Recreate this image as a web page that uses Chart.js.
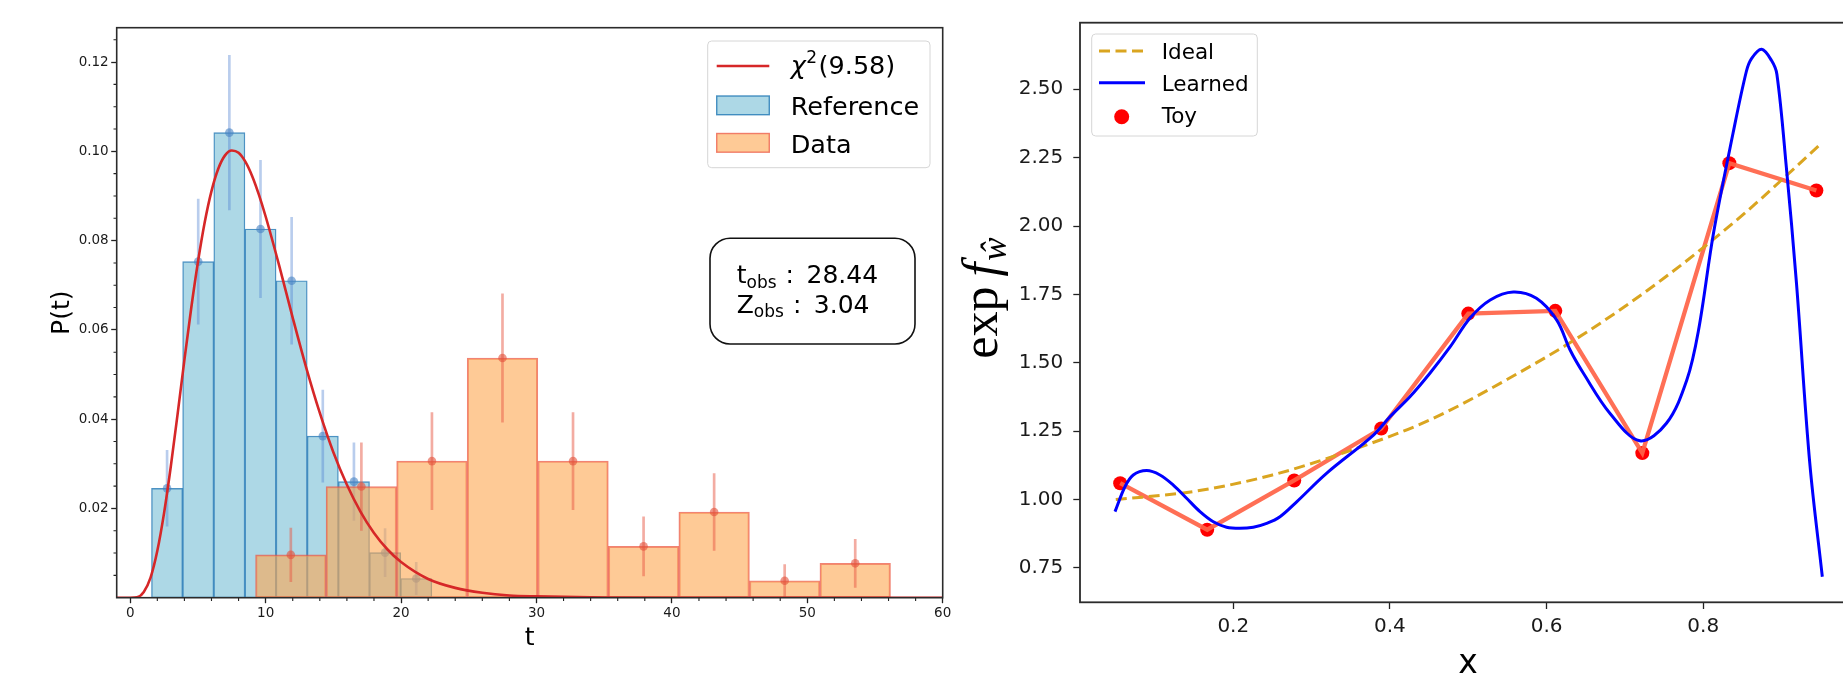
<!DOCTYPE html>
<html>
<head>
<meta charset="utf-8">
<script src="https://cdn.jsdelivr.net/npm/chart.js@4.4.1/dist/chart.umd.min.js"></script>
<style>
  html, body { margin: 0; padding: 0; background: #fff; overflow: hidden; width: 1843px; height: 677px; }
  #wrap { position: relative; width: 1843px; height: 677px; overflow: hidden; }
  #left { position: absolute; left: 0; top: 0; }
  #right { position: absolute; left: 960px; top: 0; }
</style>
</head>
<body>
<div id="wrap">
  <canvas id="left" width="960" height="677"></canvas>
  <canvas id="right" width="910" height="677"></canvas>
</div>
<script>
// ---------- left panel: distribution of the test statistic t ----------
const refCenters  = [2.72, 5.02, 7.32, 9.62, 11.92, 14.22, 16.52, 18.82, 21.12];
const refHeights  = [0.0245, 0.0753, 0.1042, 0.0826, 0.0710, 0.0362, 0.0260, 0.0101, 0.0043];
const refErrors   = [0.0085, 0.0140, 0.0173, 0.0154, 0.0142, 0.0103, 0.0087, 0.0054, 0.0036];
const dataCenters = [11.86, 17.07, 22.28, 27.49, 32.70, 37.91, 43.12, 48.33, 53.54];
const dataHeights = [0.0096, 0.0249, 0.0306, 0.0537, 0.0306, 0.0115, 0.0192, 0.0038, 0.0077];
const dataErrors  = [0.0060, 0.0098, 0.0109, 0.0144, 0.0109, 0.0066, 0.0086, 0.0036, 0.0054];
const chiDof = '9.58';
const chiT = [-1, 0, 0.5, 1, 1.5, 2, 2.5, 3, 3.5, 4, 4.5, 5, 5.5, 6, 6.5, 7, 7.5, 8, 8.5, 9, 9.5, 10,
              11, 12, 13, 14, 15, 16, 17, 18, 19, 20, 22, 24, 26, 28, 30, 35, 40, 50, 60];
const chiP = [0, 0, 0.0001, 0.0013, 0.0045, 0.0105, 0.0190, 0.0295, 0.0412, 0.0533, 0.0648, 0.0752,
              0.0841, 0.0911, 0.0961, 0.0991, 0.1002, 0.0997, 0.0977, 0.0945, 0.0903, 0.0854,
              0.0744, 0.0627, 0.0515, 0.0414, 0.0326, 0.0253, 0.0193, 0.0145, 0.0108, 0.0080,
              0.0042, 0.0022, 0.0011, 0.0005, 0.0003, 0.00004, 0, 0, 0];
const tObs = '28.44';
const zObs = '3.04';
const tTicks = [0, 10, 20, 30, 40, 50, 60];
const pTicks = [0.02, 0.04, 0.06, 0.08, 0.10, 0.12];

// ---------- right panel: learned vs ideal ratio ----------
const toyX = [0.0556, 0.1667, 0.2778, 0.3889, 0.5000, 0.6111, 0.7222, 0.8333, 0.9444];
const toyY = [1.06, 0.89, 1.07, 1.26, 1.68, 1.69, 1.17, 2.23, 2.13];
const idealX = [0.05, 0.15, 0.25, 0.35, 0.45, 0.55, 0.65, 0.75, 0.85, 0.95];
const idealY = [1.00, 1.03, 1.09, 1.18, 1.29, 1.44, 1.61, 1.81, 2.04, 2.30];
const learnedX = [0.049, 0.0617, 0.0723, 0.0894, 0.1064, 0.1234, 0.1404, 0.1575, 0.1745, 0.1915,
                  0.2085, 0.2255, 0.2426, 0.2596, 0.2809, 0.319, 0.379, 0.400, 0.4255, 0.451,
                  0.477, 0.502, 0.528, 0.5575, 0.587, 0.613, 0.630, 0.647, 0.681, 0.719, 0.753,
                  0.779, 0.794, 0.813, 0.838, 0.855, 0.8616, 0.8745, 0.8872, 0.894, 0.906, 0.919,
                  0.936, 0.952];
const learnedY = [0.956, 1.047, 1.090, 1.106, 1.090, 1.053, 1.005, 0.956, 0.919, 0.899,
                  0.895, 0.899, 0.913, 0.9375, 0.992, 1.096, 1.236, 1.303, 1.376, 1.462,
                  1.559, 1.663, 1.730, 1.759, 1.736, 1.656, 1.547, 1.462, 1.315, 1.215, 1.279,
                  1.437, 1.620, 1.973, 2.339, 2.565, 2.612, 2.646, 2.605, 2.555, 2.217, 1.791,
                  1.133, 0.718];
const xTicks = [0.2, 0.4, 0.6, 0.8];
const yTicks = [0.75, 1.00, 1.25, 1.50, 1.75, 2.00, 2.25, 2.50];

// ---------- shared helpers ----------
const SANS = '"DejaVu Sans", sans-serif';
const SERIF = '"Liberation Serif", "DejaVu Serif", serif';
Chart.defaults.font.family = SANS;

const REF_FILL = '#add8e6', REF_EDGE = 'rgba(31,119,180,0.8)';
const DATA_FILL = 'rgba(253,167,80,0.6)', DATA_EDGE = 'rgba(236,90,70,0.75)';
const CHI_COLOR = '#d62728';

function pts(xs, ys) { return xs.map((x, i) => ({ x, y: ys[i] })); }
function errPts(cs, hs, es) { return cs.map((c, i) => ({ x: c, y: [hs[i] - es[i], hs[i] + es[i]] })); }
function fixedTicks(vals) { return s => { s.ticks = vals.map(v => ({ value: v })); }; }

function drawRuns(ctx, x, y, runs) {
  for (const r of runs) {
    ctx.font = r.font;
    ctx.fillText(r.text, x, y + (r.dy || 0));
    x += ctx.measureText(r.text).width + (r.gap || 0);
  }
  return x;
}
function runsWidth(ctx, runs) {
  let w = 0;
  for (const r of runs) { ctx.font = r.font; w += ctx.measureText(r.text).width + (r.gap || 0); }
  return w;
}
function roundPath(ctx, x, y, w, h, r) {
  ctx.beginPath();
  ctx.moveTo(x + r, y);
  ctx.lineTo(x + w - r, y); ctx.arcTo(x + w, y, x + w, y + r, r);
  ctx.lineTo(x + w, y + h - r); ctx.arcTo(x + w, y + h, x + w - r, y + h, r);
  ctx.lineTo(x + r, y + h); ctx.arcTo(x, y + h, x, y + h - r, r);
  ctx.lineTo(x, y + r); ctx.arcTo(x, y, x + r, y, r);
  ctx.closePath();
}
function tickGrid(len) {
  return { display: true, drawOnChartArea: false, drawTicks: true, tickLength: len,
           tickColor: '#222', tickWidth: 1.3, offset: false };
}
function hiddenX(min, max) {
  return { type: 'linear', axis: 'x', position: 'bottom', display: false, min, max, offset: false,
           bounds: 'data', afterBuildTicks: fixedTicks([min, max]) };
}

// ---------- left chart ----------
const leftDecor = {
  id: 'leftDecor',
  afterDraw(chart) {
    const { ctx, chartArea: ca, scales } = chart;
    const xs = scales.x, ys = scales.y;
    ctx.save();
    // minor ticks
    ctx.strokeStyle = '#222'; ctx.lineWidth = 1.1;
    ctx.beginPath();
    for (let v = 2; v < 60; v += 2) {
      if (v % 10 === 0) continue;
      const px = xs.getPixelForValue(v);
      ctx.moveTo(px, ca.bottom); ctx.lineTo(px, ca.bottom + 3.2);
    }
    for (let k = 1; k <= 25; k++) {
      if (k % 4 === 0) continue;
      const py = ys.getPixelForValue(k * 0.005);
      ctx.moveTo(ca.left, py); ctx.lineTo(ca.left - 3.2, py);
    }
    ctx.stroke();
    // frame
    ctx.strokeStyle = '#2b2b2b'; ctx.lineWidth = 1.6;
    ctx.strokeRect(ca.left, ca.top, ca.right - ca.left, ca.bottom - ca.top);

    // axis titles
    ctx.fillStyle = '#000';
    ctx.font = '25px ' + SANS;
    ctx.textAlign = 'center'; ctx.textBaseline = 'alphabetic';
    ctx.fillText('t', (ca.left + ca.right) / 2, 645);
    ctx.save();
    ctx.translate(69, (ca.top + ca.bottom) / 2);
    ctx.rotate(-Math.PI / 2);
    ctx.fillText('P(t)', 0, 0);
    ctx.restore();

    // legend
    ctx.textAlign = 'left';
    roundPath(ctx, 707.7, 41, 222.3, 126.7, 4);
    ctx.fillStyle = 'rgba(255,255,255,0.8)'; ctx.fill();
    ctx.strokeStyle = '#d6d6d6'; ctx.lineWidth = 1; ctx.stroke();
    ctx.strokeStyle = CHI_COLOR; ctx.lineWidth = 2.6;
    ctx.beginPath(); ctx.moveTo(716.7, 66); ctx.lineTo(769.3, 66); ctx.stroke();
    ctx.fillStyle = '#000';
    drawRuns(ctx, 790.7, 74, [
      { text: 'χ', font: 'oblique 25.5px ' + SANS, gap: 0.5 },
      { text: '2', font: '17px ' + SANS, dy: -11, gap: 1.5 },
      { text: '(' + chiDof + ')', font: '25.5px ' + SANS }
    ]);
    ctx.fillStyle = REF_FILL; ctx.fillRect(716.7, 96, 52.6, 18.7);
    ctx.strokeStyle = REF_EDGE; ctx.lineWidth = 1.4; ctx.strokeRect(716.7, 96, 52.6, 18.7);
    ctx.fillStyle = '#000'; ctx.font = '25.5px ' + SANS;
    ctx.fillText('Reference', 790.7, 115);
    ctx.fillStyle = DATA_FILL; ctx.fillRect(716.7, 133.5, 52.6, 18.7);
    ctx.strokeStyle = DATA_EDGE; ctx.lineWidth = 1.4; ctx.strokeRect(716.7, 133.5, 52.6, 18.7);
    ctx.fillStyle = '#000';
    ctx.fillText('Data', 790.7, 152.7);

    // observed-value box
    roundPath(ctx, 710, 238.3, 205, 105.7, 20);
    ctx.fillStyle = '#fff'; ctx.fill();
    ctx.strokeStyle = '#111'; ctx.lineWidth = 1.6; ctx.stroke();
    ctx.fillStyle = '#000';
    drawRuns(ctx, 736.7, 283.3, [
      { text: 't', font: '25px ' + SANS },
      { text: 'obs', font: '17px ' + SANS, dy: 5, gap: 9 },
      { text: ':', font: '25px ' + SANS, gap: 12.5 },
      { text: tObs, font: '25px ' + SANS }
    ]);
    drawRuns(ctx, 736.7, 313.3, [
      { text: 'Z', font: '25px ' + SANS },
      { text: 'obs', font: '17px ' + SANS, dy: 4, gap: 9 },
      { text: ':', font: '25px ' + SANS, gap: 12.5 },
      { text: zObs, font: '25px ' + SANS }
    ]);
    ctx.restore();
  }
};

new Chart(document.getElementById('left'), {
  type: 'bar',
  data: {
    datasets: [
      { type: 'line', label: 'χ2(' + chiDof + ')', data: pts(chiT, chiP), xAxisID: 'x', yAxisID: 'y',
        borderColor: CHI_COLOR, borderWidth: 2.6, pointRadius: 0, fill: false,
        cubicInterpolationMode: 'monotone', order: 0 },
      { type: 'scatter', label: 'Data points', data: pts(dataCenters, dataHeights), xAxisID: 'xb', yAxisID: 'y',
        backgroundColor: 'rgba(226,80,58,0.6)', pointRadius: 4.3, borderWidth: 0, order: 1 },
      { type: 'bar', label: 'Data errors', data: errPts(dataCenters, dataHeights, dataErrors), xAxisID: 'xb', yAxisID: 'y',
        backgroundColor: 'rgba(232,90,70,0.5)', borderWidth: 0, barThickness: 2, grouped: false, order: 2 },
      { type: 'bar', label: 'Data', data: pts(dataCenters, dataHeights), xAxisID: 'xb', yAxisID: 'y',
        backgroundColor: DATA_FILL, borderColor: DATA_EDGE, borderWidth: 1.4, borderSkipped: false,
        barPercentage: 1, categoryPercentage: 1, grouped: false, order: 3 },
      { type: 'scatter', label: 'Reference points', data: pts(refCenters, refHeights), xAxisID: 'xa', yAxisID: 'y',
        backgroundColor: 'rgba(70,130,195,0.6)', pointRadius: 4.3, borderWidth: 0, order: 4 },
      { type: 'bar', label: 'Reference errors', data: errPts(refCenters, refHeights, refErrors), xAxisID: 'xa', yAxisID: 'y',
        backgroundColor: 'rgba(80,130,210,0.4)', borderWidth: 0, barThickness: 2, grouped: false, order: 5 },
      { type: 'bar', label: 'Reference', data: pts(refCenters, refHeights), xAxisID: 'xa', yAxisID: 'y',
        backgroundColor: REF_FILL, borderColor: REF_EDGE, borderWidth: 1.4, borderSkipped: false,
        barPercentage: 1, categoryPercentage: 1, grouped: false, order: 6 }
    ]
  },
  options: {
    responsive: false, animation: false, events: [],
    layout: { padding: { top: 27.7, right: 17.3, left: 0, bottom: 0 } },
    plugins: { legend: { display: false }, tooltip: { enabled: false } },
    scales: {
      x: { type: 'linear', position: 'bottom', min: -1, max: 60, offset: false, bounds: 'data',
           afterBuildTicks: fixedTicks(tTicks), afterFit: s => { s.height = 79.3; },
           ticks: { font: { size: 13.5 }, color: '#1a1a1a', padding: 2, maxRotation: 0, autoSkip: false,
                    callback: v => String(v) },
           grid: tickGrid(5.5), border: { display: false } },
      xa: hiddenX(-1, 60),
      xb: hiddenX(-1, 60),
      y: { type: 'linear', position: 'left', min: 0, max: 0.1277, bounds: 'data',
           afterBuildTicks: fixedTicks(pTicks), afterFit: s => { s.width = 116.7; },
           ticks: { font: { size: 13.5 }, color: '#1a1a1a', padding: 2.5, autoSkip: false,
                    callback: v => v.toFixed(2) },
           grid: tickGrid(5.5), border: { display: false } }
    }
  },
  plugins: [leftDecor]
});

// ---------- right chart ----------
const rightDecor = {
  id: 'rightDecor',
  afterDraw(chart) {
    const { ctx, chartArea: ca } = chart;
    ctx.save();
    ctx.strokeStyle = '#2b2b2b'; ctx.lineWidth = 1.8;
    ctx.strokeRect(ca.left, ca.top, ca.right - ca.left, ca.bottom - ca.top);

    // axis titles
    ctx.fillStyle = '#000';
    ctx.textAlign = 'center'; ctx.textBaseline = 'alphabetic';
    ctx.font = '33px ' + SANS;
    ctx.fillText('x', (ca.left + ca.right) / 2, 673.3);
    const label = [
      { text: 'exp', font: '50px ' + SERIF, gap: 10 },
      { text: 'f', font: 'italic 50px ' + SERIF, gap: 2 },
      { text: 'ŵ', font: 'italic 35px ' + SERIF, dy: 9 }
    ];
    const w = runsWidth(ctx, label);
    ctx.save();
    ctx.translate(37, 298);
    ctx.rotate(-Math.PI / 2);
    ctx.textAlign = 'left';
    drawRuns(ctx, -w / 2, 0, label);
    ctx.restore();

    // legend
    ctx.textAlign = 'left';
    roundPath(ctx, 131.7, 34, 165.6, 102, 4);
    ctx.fillStyle = 'rgba(255,255,255,0.8)'; ctx.fill();
    ctx.strokeStyle = '#d6d6d6'; ctx.lineWidth = 1; ctx.stroke();
    ctx.lineWidth = 3;
    ctx.strokeStyle = '#daa520'; ctx.setLineDash([11, 5.5]);
    ctx.beginPath(); ctx.moveTo(139, 51); ctx.lineTo(185, 51); ctx.stroke();
    ctx.setLineDash([]);
    ctx.strokeStyle = '#0000ff';
    ctx.beginPath(); ctx.moveTo(139, 82.7); ctx.lineTo(185, 82.7); ctx.stroke();
    ctx.fillStyle = '#ff0000';
    ctx.beginPath(); ctx.arc(161.7, 116.7, 7.5, 0, Math.PI * 2); ctx.fill();
    ctx.fillStyle = '#000'; ctx.font = '21.5px ' + SANS;
    ctx.fillText('Ideal', 201.7, 59.3);
    ctx.fillText('Learned', 201.7, 90.7);
    ctx.fillText('Toy', 201.7, 123.3);
    ctx.restore();
  }
};

new Chart(document.getElementById('right'), {
  type: 'line',
  data: {
    datasets: [
      { label: 'Learned', data: pts(learnedX, learnedY), borderColor: '#0000ff', borderWidth: 3,
        pointRadius: 0, fill: false, tension: 0.35, order: 0 },
      { label: 'Ideal', data: pts(idealX, idealY), borderColor: '#daa520', borderWidth: 3,
        borderDash: [11, 5.5], pointRadius: 0, fill: false, cubicInterpolationMode: 'monotone', order: 1 },
      { label: 'Toy path', data: pts(toyX, toyY), borderColor: 'rgba(255,99,71,0.92)', borderWidth: 4.3,
        pointRadius: 0, fill: false, tension: 0, order: 2 },
      { type: 'scatter', label: 'Toy', data: pts(toyX, toyY), backgroundColor: '#ff0000',
        pointRadius: 7, borderWidth: 0, order: 3 }
    ]
  },
  options: {
    responsive: false, animation: false, events: [],
    layout: { padding: { top: 22.7, right: 14, left: 0, bottom: 0 } },
    plugins: { legend: { display: false }, tooltip: { enabled: false } },
    scales: {
      x: { type: 'linear', position: 'bottom', min: 0.0043, max: 0.995, bounds: 'data',
           afterBuildTicks: fixedTicks(xTicks), afterFit: s => { s.height = 74.7; },
           ticks: { font: { size: 20 }, color: '#1a1a1a', padding: 6, maxRotation: 0, autoSkip: false,
                    callback: v => v.toFixed(1) },
           grid: tickGrid(6.7), border: { display: false } },
      y: { type: 'linear', position: 'left', min: 0.6246, max: 2.7434, bounds: 'data',
           afterBuildTicks: fixedTicks(yTicks), afterFit: s => { s.width = 120; },
           ticks: { font: { size: 20 }, color: '#1a1a1a', padding: 10, autoSkip: false,
                    callback: v => v.toFixed(2) },
           grid: tickGrid(6.7), border: { display: false } }
    }
  },
  plugins: [rightDecor]
});
</script>
</body>
</html>
